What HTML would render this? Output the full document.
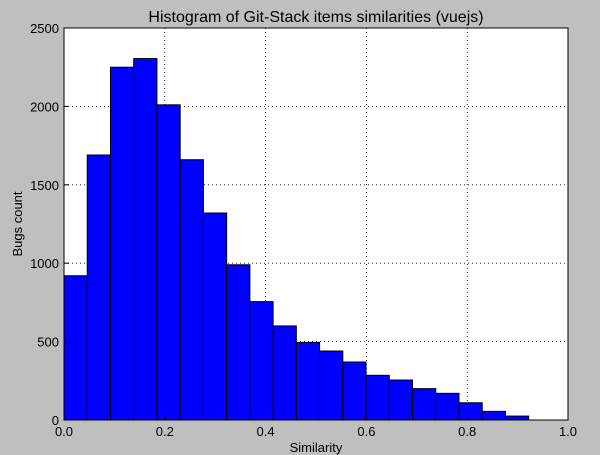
<!DOCTYPE html>
<html><head><meta charset="utf-8"><style>
body{margin:0;background:#bfbfbf;}
svg{display:block;font-family:"Liberation Sans",sans-serif;}
</style></head><body>
<svg id="chart" width="600" height="455">
<rect x="0" y="0" width="600" height="455" fill="#bfbfbf"/>
<rect x="64" y="28" width="504" height="392" fill="#fff"/>
<g id="grid"></g>
<g id="bars"></g>
<rect x="64" y="28" width="504" height="392" fill="none" stroke="#000" stroke-width="1"/>
<g id="ticks"></g>
<text x="316" y="22" font-size="16" text-anchor="middle">Histogram of Git-Stack items similarities (vuejs)</text>
<text x="316" y="452" font-size="13" text-anchor="middle">Similarity</text>
<text x="22" y="224" font-size="13" text-anchor="middle" transform="rotate(-90 22 224)">Bugs count</text>
</svg>
<script>
const counts=[920,1690,2250,2305,2010,1660,1320,990,755,600,495,440,370,285,255,200,170,110,55,25];
const binStart=0.0;
const binWidth=0.0461;
const xTicks=[0,0.2,0.4,0.6,0.8,1.0];
const xTickLabels=["0.0","0.2","0.4","0.6","0.8","1.0"];
const yTicks=[0,500,1000,1500,2000,2500];
const yTickLabels=["0","500","1000","1500","2000","2500"];
const L=64,R=568,T=28,B=420;
const xs=v=>L+(v-0)/(1-0)*(R-L);
const ys=v=>B-(v/2500)*(B-T);
const NS="http://www.w3.org/2000/svg";
const grid=document.getElementById('grid'),bars=document.getElementById('bars'),ticks=document.getElementById('ticks');
function mk(tag,attrs,parent){const e=document.createElementNS(NS,tag);for(const k in attrs)e.setAttribute(k,attrs[k]);parent.appendChild(e);return e;}
xTicks.forEach((v,i)=>{
  const x=xs(v);
  if(i>0&&i<xTicks.length-1){const g=mk('line',{x1:x,x2:x,y1:T,y2:B,stroke:'#000','stroke-dasharray':'1,3','stroke-width':0.8},grid);
  
  }
  const t=mk('line',{x1:x,x2:x,y1:B,y2:B-5,stroke:'#000'},ticks);
  
  
  const l=mk('text',{x:x,y:B+16,'font-size':13,'text-anchor':'middle'},ticks);l.textContent=xTickLabels[i];
  
  
});
yTicks.forEach((v,i)=>{
  const y=ys(v);
  if(i>0&&i<yTicks.length-1){const g=mk('line',{x1:L,x2:R,y1:y,y2:y,stroke:'#000','stroke-dasharray':'1,3','stroke-width':0.8},grid);
  
  }
  const t=mk('line',{x1:L,x2:L+5,y1:y,y2:y,stroke:'#000'},ticks);
  
  
  const l=mk('text',{x:L-5,y:y+5,'font-size':13,'text-anchor':'end'},ticks);l.textContent=yTickLabels[i];
  
  
});
counts.forEach((c,i)=>{
  const x0=xs(binStart+i*binWidth),x1=xs(binStart+(i+1)*binWidth);
  const r=mk('rect',{x:x0,y:ys(c),width:x1-x0,height:B-ys(c),fill:'#0000ff',stroke:'#000','stroke-width':1},bars);
  
  
});
</script>
</body></html>
